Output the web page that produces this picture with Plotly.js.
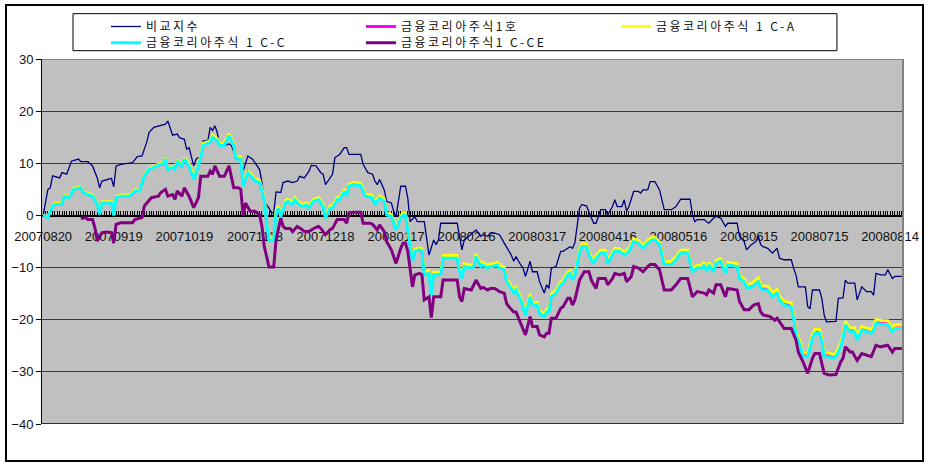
<!DOCTYPE html>
<html>
<head>
<meta charset="utf-8">
<script src="https://cdn.plot.ly/plotly-3.0.1.min.js"></script>
<style>
  html, body { margin: 0; padding: 0; background: #ffffff; overflow: hidden; }
  #chart { width: 929px; height: 466px; position: absolute; left: 0; top: 0; }
  #frame { position: absolute; left: 5px; top: 4px; width: 919px; height: 458px;
           border: 2px solid #000; box-sizing: border-box; pointer-events: none; }
  #chart .infolayer text { letter-spacing: 2.5px !important; }
</style>
</head>
<body>
<div id="chart"></div>
<div id="frame"></div>
<script>
// ---- category axis: one category per calendar day, 20070820 .. 20080819 ----
const dayCount = 366;
const tickDays = [0, 30, 60, 90, 120, 150, 180, 210, 240, 270, 300, 330, 360];
const tickLabels = ['20070820', '20070919', '20071019', '20071118', '20071218', '20080117',
  '20080216', '20080317', '20080416', '20080516', '20080615', '20080715', '20080814'];

const seriesNames = ['비교지수', '금융코리아주식1호', '금융코리아주식 1 C-A', '금융코리아주식 1 C-C', '금융코리아주식1 C-CE'];

// ---- 비교지수 (benchmark) : [day, value] ----
const benchmarkPoints = [
  [0,0],[2,5.0],[3,5.3],[4,7.6],[7,7.2],[8,8.2],[10,7.9],[12,10.4],[15,10.8],[16,10.3],
  [19,10.3],[21,9.5],[23,7.2],[24,5.3],[25,6.6],[27,6.9],[29,7.1],[30,5.5],[31,9.5],[33,9.8],
  [38,10.1],[40,11.3],[42,11.4],[44,14.0],[45,15.9],[47,16.9],[50,17.2],[52,17.5],[53,18.1],[55,15.4],
  [57,15.6],[58,14.9],[60,14.6],[61,12.7],[62,13.0],[64,9.5],[65,10.8],[67,11.4],[68,14.3],[70,14.3],
  [71,16.9],[72,16.3],[73,17.2],[74,15.9],[75,13.4],[77,13.4],[79,13.7],[80,13.4],[82,11.1],[84,11.1],
  [85,8.5],[87,11.4],[89,10.8],[91,9.5],[92,8.8],[93,6.3],[94,2.7],[96,1.4],[97,0.5],[98,0.5],
  [99,4.5],[101,4.4],[102,6.3],[104,6.6],[106,6.3],[108,6.6],[109,7.5],[111,7.2],[112,7.9],[113,8.5],
  [114,9.6],[116,9.5],[118,8.2],[119,7.9],[120,5.9],[122,7.2],[123,7.9],[124,11.1],[126,11.7],[128,13.0],
  [129,13.0],[130,11.7],[135,11.7],[136,9.8],[138,8.2],[140,7.9],[141,6.6],[142,5.9],[143,6.9],[145,4.9],
  [146,2.7],[148,2.4],[149,0.8],[150,-0.2],[151,2.7],[152,5.6],[154,5.6],[155,3.3],[156,-1.2],[158,-0.2],
  [159,-1.2],[162,-1.2],[163,-4.4],[164,-7.6],[166,-4.7],[167,-5.6],[168,-4.7],[169,-1.5],[176,-1.5],[177,-4.0],
  [178,-6.6],[179,-4.7],[181,-4.0],[184,-2.8],[186,-4.0],[187,-3.7],[189,-4.0],[190,-3.4],[192,-3.4],[194,-3.7],
  [196,-5.3],[198,-6.9],[199,-7.6],[200,-8.8],[201,-7.9],[203,-9.5],[204,-10.1],[205,-11.7],[207,-8.8],[208,-10.8],
  [210,-10.8],[211,-12.7],[213,-14.9],[214,-13.3],[215,-14.0],[216,-10.1],[218,-9.8],[220,-6.9],[221,-6.9],[223,-6.3],
  [224,-6.0],[225,-6.3],[226,-5.3],[228,1.4],[229,2.1],[231,1.8],[232,0.8],[234,-1.5],[235,-1.5],[237,1.1],
  [239,1.1],[240,0.1],[242,1.7],[243,3.0],[244,1.7],[246,1.7],[247,3.0],[248,0.8],[249,1.7],[251,4.6],
  [253,4.6],[254,4.3],[255,4.9],[257,4.9],[258,6.5],[260,6.5],[262,4.9],[264,1.1],[267,1.1],[269,1.7],
  [271,3.1],[275,3.1],[276,0.1],[277,-1.2],[278,-0.8],[281,-0.8],[282,-1.2],[283,-1.5],[285,-0.5],[286,-0.2],
  [288,-0.5],[290,-2.1],[291,-1.5],[295,-1.5],[296,-4.0],[298,-5.0],[299,-6.6],[301,-5.6],[303,-5.0],[304,-4.0],
  [305,-5.6],[306,-6.0],[308,-6.3],[310,-7.2],[312,-6.3],[313,-8.2],[315,-8.5],[318,-8.5],[319,-10.1],[320,-11.4],
  [321,-13.7],[324,-13.7],[325,-17.5],[326,-17.9],[327,-14.3],[330,-14.3],[331,-15.9],[332,-19.1],[333,-20.4],[337,-20.3],
  [338,-15.9],[340,-15.8],[341,-12.4],[342,-13.0],[345,-13.0],[346,-16.2],[348,-13.7],[350,-14.6],[352,-14.6],[353,-15.3],
  [354,-11.1],[356,-11.4],[358,-11.4],[359,-10.4],[361,-12.1],[362,-11.7],[365,-11.7]
];

// ---- the three nearly identical fund classes share their days ----
const fundDays = [
  0,2,4,5,8,9,11,13,16,17,19,21,23,24,25,29,30,31,33,37,39,41,43,45,47,50,51,52,53,55,56,57,59,60,
  62,64,65,67,68,70,71,72,74,75,77,79,81,82,84,85,87,89,90,92,94,95,96,98,99,100,101,103,104,106,
  107,108,110,112,113,115,117,118,119,120,122,123,125,126,128,129,130,132,135,137,140,141,143,145,146,148,
  150,152,153,154,155,157,158,160,
  161,162,164,165,166,169,170,176,177,178,179,182,183,184,186,187,189,190,191,193,194,196,197,198,200,201,
  203,205,207,208,210,211,213,214,215,216,218,220,221,223,224,225,226,228,229,231,232,234,235,237,239,240,
  242,243,245,247,249,251,253,255,257,259,260,262,264,267,269,271,274,276,278,280,281,282,283,285,286,288,
  290,291,295,296,298,299,
  301,303,304,305,306,308,310,312,313,315,318,319,320,322,323,325,327,328,330,331,332,334,336,337,339,340,
  341,343,345,346,348,350,352,353,354,357,359,361,362,365
];

// 금융코리아주식1호 (magenta)
const fund1Values = [
  0,-0.3,1.9,2.2,2.2,3.8,3.5,5.1,5.4,4.5,4.1,3.8,2.2,0.3,2.5,2.5,0.1,3.5,3.8,3.8,4.8,4.8,7.7,8.9,9.3,9.9,9.9,10.9,8.9,9.3,8.9,10.5,9.3,10.9,
  9.7,7.1,8.4,11.3,13.6,13.9,14.2,15.2,14.5,13.6,13.6,15.5,13.6,11.0,11.0,5.8,8.4,7.4,6.8,6.5,3.2,-1.3,-4.5,-4.5,0.7,1.6,0.0,2.6,2.9,2.3,
  3.2,2.6,1.9,2.2,1.6,2.9,3.2,2.6,1.9,-0.3,1.6,1.6,3.2,3.2,4.8,3.9,5.8,6.1,5.9,3.9,3.6,2.3,3.5,2.9,0.3,0.0,
  -2.6,-0.3,0.3,0.3,-2.6,-8.6,-6.7,-6.4,
  -6.6,-11.1,-10.8,-15.0,-11.1,-11.1,-7.9,-7.9,-10.5,-11.8,-9.5,-9.8,-9.5,-7.6,-9.5,-9.2,-9.8,-9.5,-9.5,-9.2,
  -9.8,-10.1,-12.4,-13.0,-14.6,-14.0,-15.9,-18.8,-15.3,-16.9,-16.9,-18.5,-19.1,-18.2,-18.2,-15.3,-14.6,-13.0,-12.7,-11.1,
  -10.8,-12.1,-11.1,-6.9,-5.7,-5.7,-7.3,-8.9,-8.0,-6.9,-6.9,-8.9,-7.3,-6.5,-6.6,-7.3,-6.6,-4.7,-5.0,-6.0,
  -5.0,-4.4,-4.4,-5.3,-9.1,-9.1,-8.2,-6.9,-6.9,-10.5,-9.8,-9.8,-9.2,-10.5,-9.2,-10.5,-8.9,-8.5,-10.8,-9.2,
  -9.5,-11.8,-12.4,-13.5,
  -13.4,-12.6,-12.3,-13.6,-13.9,-13.9,-15.2,-14.5,-15.8,-16.8,-17.1,-19.3,-22.5,-24.8,-26.7,-26.7,-23.2,-22.2,-22.2,-23.8,
  -26.7,-26.7,-27.0,-26.7,-24.8,-23.2,-20.6,-21.9,-21.9,-23.5,-21.6,-21.9,-22.2,-21.6,-20.3,-20.5,-20.5,-21.9,-21.3,-21.3
];

// 금융코리아주식 1 C-A (yellow)
const fundCAValues = [
  0,-0.2,2.0,2.3,2.3,3.9,3.6,5.2,5.5,4.6,4.2,3.9,2.3,0.4,2.6,2.6,0.2,3.6,3.9,3.9,4.9,4.9,7.8,9.0,9.4,10.0,10.0,11.0,9.0,9.4,9.0,10.6,9.4,11.0,
  9.9,7.3,8.6,11.5,13.8,14.1,14.4,15.4,14.7,13.8,13.8,15.7,13.8,11.2,11.2,6.0,8.6,7.6,7.0,6.7,3.4,-1.1,-4.3,-4.3,0.9,1.8,0.2,2.8,3.1,2.5,
  3.4,2.8,2.1,2.4,1.8,3.1,3.4,2.8,2.1,-0.1,1.8,1.8,3.4,3.4,5.0,4.1,6.0,6.3,6.1,4.1,3.8,2.5,3.7,3.1,0.5,0.2,
  -2.4,-0.1,0.5,0.5,-2.4,-8.4,-6.5,-6.2,
  -6.4,-10.9,-10.6,-14.8,-10.9,-10.9,-7.7,-7.7,-10.3,-11.6,-9.3,-9.6,-9.3,-7.4,-9.3,-9.0,-9.6,-9.3,-9.3,-9.0,
  -9.6,-9.9,-12.2,-12.8,-14.4,-13.8,-15.7,-18.6,-15.1,-16.7,-16.7,-18.3,-18.9,-18.0,-18.0,-15.1,-14.4,-12.8,-12.5,-10.9,
  -10.6,-11.9,-10.9,-6.7,-5.5,-5.5,-7.1,-8.7,-7.8,-6.7,-6.7,-8.7,-7.1,-6.3,-6.4,-7.1,-6.4,-4.5,-4.8,-5.8,
  -4.8,-4.2,-4.2,-5.1,-8.9,-8.9,-8.0,-6.7,-6.7,-10.3,-9.6,-9.6,-9.0,-10.3,-9.0,-10.3,-8.7,-8.3,-10.6,-9.0,
  -9.3,-11.6,-12.2,-13.3,
  -13.1,-12.3,-12.0,-13.3,-13.6,-13.6,-14.9,-14.2,-15.5,-16.5,-16.8,-19.0,-22.2,-24.5,-26.4,-26.4,-22.9,-21.9,-21.9,-23.5,
  -26.4,-26.4,-26.7,-26.4,-24.5,-22.9,-20.3,-21.6,-21.6,-23.2,-21.3,-21.6,-21.9,-21.3,-20.0,-20.2,-20.2,-21.6,-21.0,-21.0
];

// 금융코리아주식 1 C-C (cyan)
const fundCCValues = [
  0,-0.4,1.8,2.1,2.1,3.7,3.4,5.0,5.3,4.4,4.0,3.7,2.1,0.2,2.4,2.4,0,3.4,3.7,3.7,4.7,4.7,7.6,8.8,9.2,9.8,9.8,10.8,8.8,9.2,8.8,10.4,9.2,10.8,
  9.5,6.9,8.2,11.1,13.4,13.7,14.0,15.0,14.3,13.4,13.4,15.3,13.4,10.8,10.8,5.6,8.2,7.2,6.6,6.3,3.0,-1.5,-4.7,-4.7,0.5,1.4,-0.2,2.4,2.7,2.1,
  3.0,2.4,1.7,2.0,1.4,2.7,3.0,2.4,1.7,-0.5,1.4,1.4,3.0,3.0,4.6,3.7,5.6,5.9,5.7,3.7,3.4,2.1,3.3,2.7,0.1,-0.2,
  -2.8,-0.5,0.1,0.1,-2.8,-8.8,-6.9,-6.6,
  -6.9,-11.4,-11.1,-15.3,-11.4,-11.4,-8.2,-8.2,-10.8,-12.1,-9.8,-10.1,-9.8,-7.9,-9.8,-9.5,-10.1,-9.8,-9.8,-9.5,
  -10.1,-10.4,-12.7,-13.3,-14.9,-14.3,-16.2,-19.1,-15.6,-17.2,-17.2,-18.8,-19.4,-18.5,-18.5,-15.6,-14.9,-13.3,-13.0,-11.4,
  -11.1,-12.4,-11.4,-7.2,-6.0,-6.0,-7.6,-9.2,-8.3,-7.2,-7.2,-9.2,-7.6,-6.8,-6.9,-7.6,-6.9,-5.0,-5.3,-6.3,
  -5.3,-4.7,-4.7,-5.6,-9.4,-9.4,-8.5,-7.2,-7.2,-10.8,-10.1,-10.1,-9.5,-10.8,-9.5,-10.8,-9.2,-8.8,-11.1,-9.5,
  -9.8,-12.1,-12.7,-13.8,
  -13.8,-13.0,-12.7,-14.0,-14.3,-14.3,-15.6,-14.9,-16.2,-17.2,-17.5,-19.7,-22.9,-25.2,-27.1,-27.1,-23.6,-22.6,-22.6,-24.2,
  -27.1,-27.1,-27.4,-27.1,-25.2,-23.6,-21.0,-22.3,-22.3,-23.9,-22.0,-22.3,-22.6,-22.0,-20.7,-20.9,-20.9,-22.3,-21.7,-21.7
];

// ---- 금융코리아주식1 C-CE (purple) : [day, value] ----
const fundCCEPoints = [
  [16,-0.6],[18,-0.4],[19,-0.8],[21,-0.8],[22,-2.4],[23,-4.9],[25,-3.3],[27,-3.2],[29,-3.3],[30,-5.3],
  [31,-1.7],[33,-1.4],[38,-1.4],[39,-0.8],[42,-0.4],[43,1.8],[46,3.4],[49,3.7],[50,4.4],[52,5.0],
  [53,3.7],[55,4.0],[56,3.1],[57,4.7],[59,3.7],[60,5.3],[62,3.7],[64,1.5],[65,2.4],[66,3.4],
  [67,7.5],[70,7.5],[71,8.5],[72,7.9],[73,9.5],[75,7.5],[77,7.5],[79,9.5],[81,5.3],[83,5.3],
  [84,5.0],[85,0],[86,2.4],[88,0.8],[90,0.8],[92,0.1],[93,-2.1],[94,-6.0],[95,-7.9],[96,-9.9],
  [98,-9.9],[99,-4.7],[101,-0.5],[102,-2.1],[103,-2.5],[105,-2.5],[106,-3.1],[108,-2.1],[110,-2.7],[111,-3.1],
  [113,-3.1],[115,-2.5],[117,-2.1],[118,-2.5],[120,-3.7],[122,-2.7],[123,-2.5],[125,-0.8],[128,-0.8],[129,-1.5],
  [130,0.5],[132,0.6],[135,0.6],[136,-1.5],[139,-1.5],[140,-1.7],[142,-2.8],[143,-1.8],[145,-3.1],[146,-5.0],
  [148,-6.6],[150,-9.2],[152,-6.3],[153,-5.3],[154,-5.3],[155,-6.9],[157,-13.7],[158,-11.4],[160,-11.1],[161,-11.4],
  [162,-16.2],[164,-15.6],[165,-19.6],[166,-15.6],[169,-15.6],[170,-12.4],[176,-12.4],[177,-15.6],[178,-16.5],[179,-14.0],
  [182,-14.3],[184,-12.4],[186,-14.0],[187,-13.8],[189,-14.3],[190,-14.0],[192,-14.0],[194,-14.6],[196,-14.9],[197,-16.9],
  [198,-17.5],[200,-18.5],[201,-18.5],[203,-20.7],[205,-22.9],[207,-19.4],[208,-21.3],[210,-21.3],[211,-22.9],[213,-23.3],
  [214,-22.6],[215,-22.6],[216,-19.7],[218,-19.7],[220,-17.8],[221,-17.5],[223,-15.9],[224,-15.9],[225,-17.2],[226,-16.2],
  [228,-12.4],[230,-10.8],[232,-10.8],[233,-12.4],[235,-14.0],[236,-12.1],[239,-12.1],[240,-13.3],[242,-12.1],[243,-11.1],
  [245,-11.4],[247,-11.1],[248,-12.7],[250,-11.7],[251,-9.8],[253,-10.1],[255,-10.8],[257,-9.8],[258,-9.4],[260,-9.4],
  [262,-10.4],[264,-14.3],[267,-14.3],[269,-13.3],[271,-12.1],[274,-12.1],[276,-15.6],[278,-14.6],[281,-14.9],[282,-15.2],
  [283,-14.3],[285,-14.9],[286,-13.3],[288,-13.3],[290,-15.6],[291,-14.0],[295,-14.3],[296,-16.5],[298,-18.1],[300,-18.1],
  [302,-17.2],[304,-16.9],[305,-18.5],[306,-19.1],[309,-19.4],[311,-20.1],[312,-19.7],[315,-21.7],[318,-21.7],[320,-23.9],
  [321,-26.2],[323,-28.1],[325,-30.3],[327,-27.4],[328,-26.5],[330,-26.5],[331,-28.4],[332,-30.3],[334,-30.6],[337,-30.5],
  [339,-28.1],[340,-27.4],[341,-25.2],[343,-26.2],[344,-26.2],[346,-27.8],[348,-26.5],[350,-26.8],[352,-27.1],[354,-24.9],
  [356,-25.2],[359,-24.9],[361,-26.2],[362,-25.5],[365,-25.5]
];

const seriesColors = ['#000080', '#FF00FF', '#FFFF00', '#00FFFF', '#800080'];
const seriesWidths = [1.3, 3, 3, 3, 3];
const legendRow = ['legend', 'legend', 'legend', 'legend2', 'legend2'];

// ---- build traces ----
const xsOf = pts => pts.map(p => p[0]);
const ysOf = pts => pts.map(p => p[1]);
const seriesX = [xsOf(benchmarkPoints), fundDays, fundDays, fundDays, xsOf(fundCCEPoints)];
const seriesY = [ysOf(benchmarkPoints), fund1Values, fundCAValues, fundCCValues, ysOf(fundCCEPoints)];

const traces = seriesNames.map((name, i) => ({
  type: 'scatter', mode: 'lines', name: name,
  x: seriesX[i], y: seriesY[i],
  line: { color: seriesColors[i], width: seriesWidths[i] },
  legend: legendRow[i],
  hoverinfo: 'skip'
}));

const tickFont = { family: 'Liberation Sans, Arial, sans-serif', size: 13, color: '#111111' };
const legendBase = {
  orientation: 'h', xanchor: 'left', yanchor: 'top',
  x: 0.0743,
  entrywidth: 210, entrywidthmode: 'pixels',
  itemwidth: 30, traceorder: 'normal',
  font: { family: 'Noto Sans CJK KR, sans-serif', size: 12, color: '#111111' },
  bgcolor: 'rgba(0,0,0,0)', borderwidth: 0
};

const layout = {
  width: 929, height: 466,
  margin: { l: 42, r: 26, t: 59, b: 42, pad: 0 },
  paper_bgcolor: '#ffffff',
  plot_bgcolor: '#C0C0C0',
  showlegend: true,
  legend: Object.assign({}, legendBase, { y: 1.1288 }),
  legend2: Object.assign({}, legendBase, { y: 1.0842 }),
  xaxis: {
    range: [-0.5, dayCount - 0.5],
    tickmode: 'array', tickvals: tickDays, ticktext: tickLabels,
    anchor: 'free', position: 40 / 70, side: 'bottom',
    showgrid: false, zeroline: false,
    showline: true, linecolor: '#000000', linewidth: 1.5,
    ticks: 'inside', ticklen: 4, tickwidth: 1, tickcolor: '#000000',
    minor: { tickmode: 'linear', tick0: 0, dtick: 1, ticks: 'inside', ticklen: 4, tickwidth: 1, tickcolor: '#000000', showgrid: false },
    ticklabelstandoff: 8,
    tickfont: tickFont,
    layer: 'below traces',
    automargin: false, fixedrange: true
  },
  yaxis: {
    range: [-40, 30], tick0: 0, dtick: 10,
    showgrid: true, gridcolor: '#3c3c3c', gridwidth: 1,
    zeroline: false,
    showline: true, linecolor: '#000000', linewidth: 1,
    ticks: 'outside', ticklen: 5, tickwidth: 1, tickcolor: '#000000',
    tickfont: tickFont,
    automargin: false, fixedrange: true
  },
  shapes: [
    { type: 'line', xref: 'paper', yref: 'y', x0: 0, x1: 1, y0: 30, y1: 30, line: { color: '#808080', width: 2 }, layer: 'above' },
    { type: 'line', xref: 'paper', yref: 'y', x0: 1, x1: 1, y0: -40, y1: 30, line: { color: '#808080', width: 2 }, layer: 'above' },
    { type: 'line', xref: 'paper', yref: 'y', x0: 0, x1: 1, y0: -40, y1: -40, line: { color: '#000000', width: 1.5 }, layer: 'above' },
    { type: 'rect', xref: 'paper', yref: 'paper', x0: 0.036, x1: 0.9233, y0: 1.0228, y1: 1.1242,
      line: { color: '#000000', width: 1 }, fillcolor: 'rgba(0,0,0,0)', layer: 'above' }
  ]
};

Plotly.newPlot('chart', traces, layout, { staticPlot: true, displayModeBar: false });
</script>
</body>
</html>
